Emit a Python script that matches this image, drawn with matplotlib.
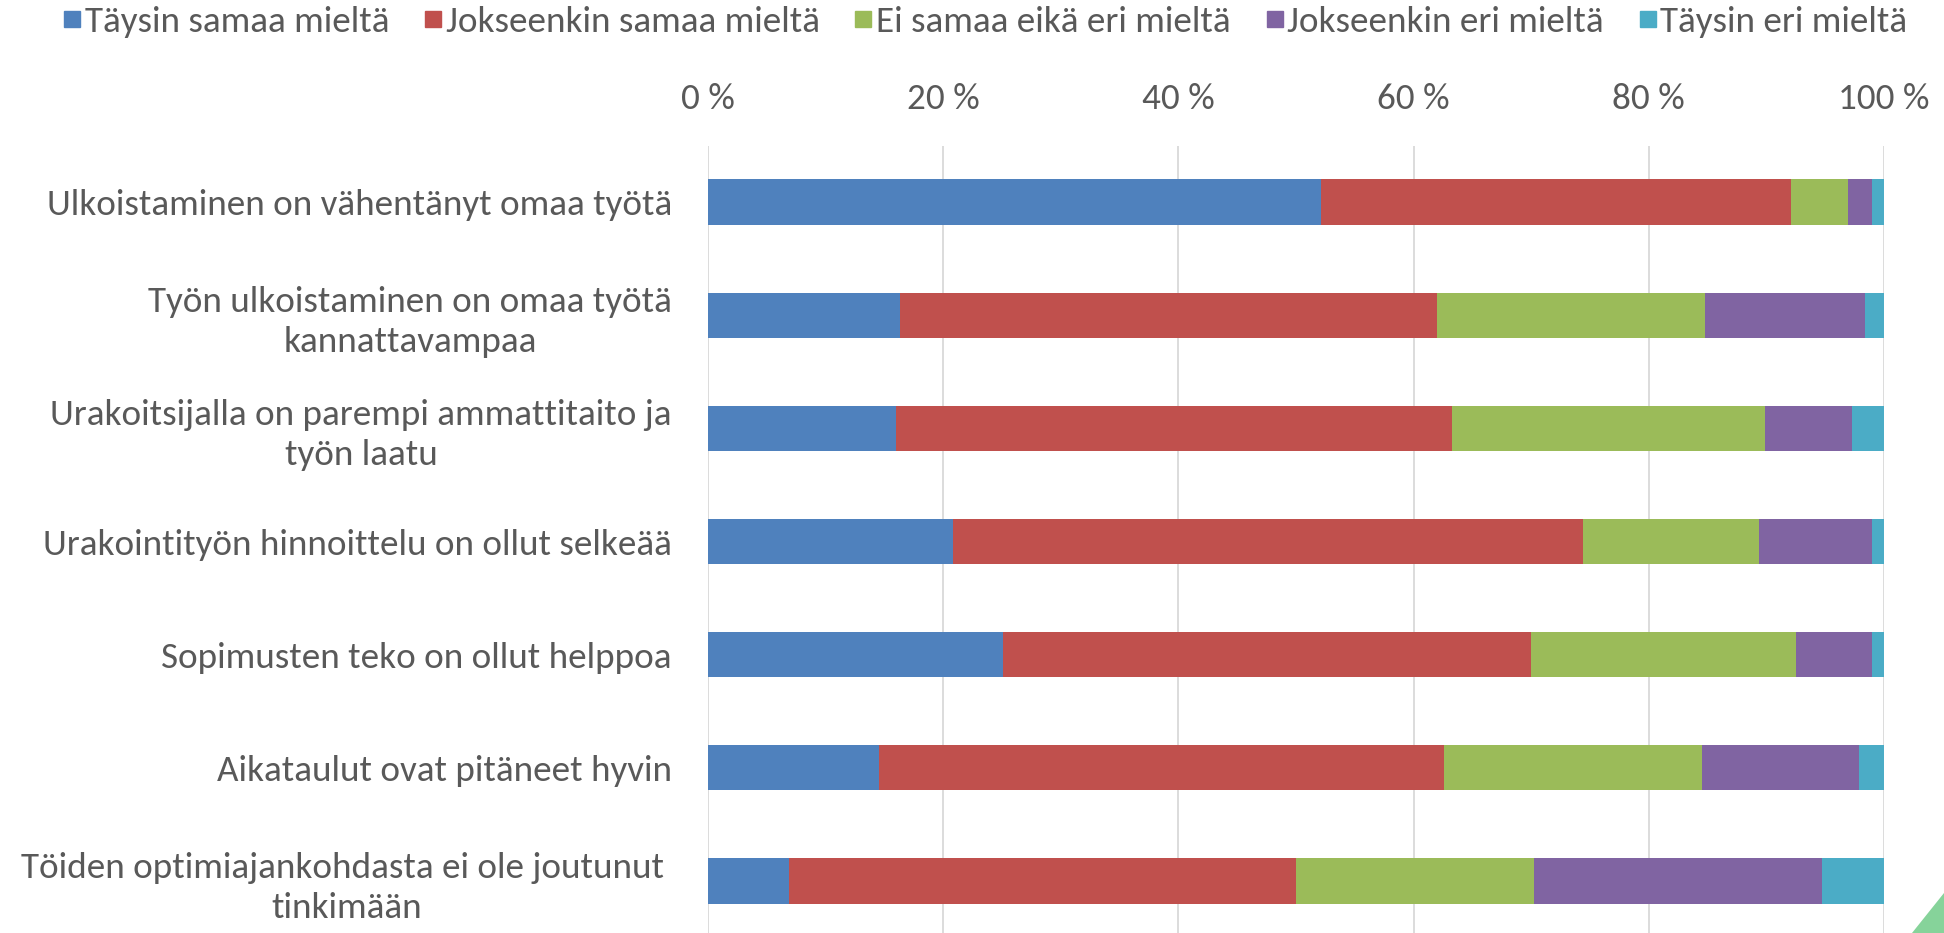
import matplotlib
matplotlib.use("Agg")
import matplotlib.pyplot as plt
from matplotlib.lines import Line2D
from matplotlib.patches import Polygon
from matplotlib import font_manager
import numpy as np

categories = [
    "Ulkoistaminen on vähentänyt omaa työtä",
    "Työn ulkoistaminen on omaa työtä\nkannattavampaa",
    "Urakoitsijalla on parempi ammattitaito ja\ntyön laatu",
    "Urakointityön hinnoittelu on ollut selkeää",
    "Sopimusten teko on ollut helppoa",
    "Aikataulut ovat pitäneet hyvin",
    "Töiden optimiajankohdasta ei ole joutunut \ntinkimään",
]
series_names = ["Täysin samaa mieltä", "Jokseenkin samaa mieltä",
                "Ei samaa eikä eri mieltä", "Jokseenkin eri mieltä",
                "Täysin eri mieltä"]
taysin_samaa = [52.1, 16.3, 16.0, 20.8, 25.1, 14.5, 6.9]
jokseenkin_samaa = [40.0, 45.7, 47.3, 53.6, 44.9, 48.1, 43.1]
ei_samaa_eika_eri = [4.8, 22.8, 26.6, 15.0, 22.5, 21.9, 20.2]
jokseenkin_eri = [2.1, 13.6, 7.4, 9.6, 6.5, 13.4, 24.5]
taysin_eri = [1.0, 1.6, 2.7, 1.0, 1.0, 2.1, 5.3]
tick_values = [0, 20, 40, 60, 80, 100]
tick_labels = ["0 %", "20 %", "40 %", "60 %", "80 %", "100 %"]

colors = ["#4F81BD", "#C0504D", "#9BBB59", "#8064A2", "#4BACC6"]
text_color = "#595959"

W, H = 1944, 933
fig = plt.figure(figsize=(W / 100, H / 100), dpi=100)
renderer = fig.canvas.get_renderer()

available = {f.name for f in font_manager.fontManager.ttflist}
family = 'Carlito' if 'Carlito' in available else 'Lato'
plt.rcParams['font.family'] = [family, 'DejaVu Sans']
t = fig.text(0, 0, categories[0], fontsize=25)
w = t.get_window_extent(renderer).width
t.remove()
FS = float(np.clip(25 * 625.0 / w, 22, 29))

left_px, right_px = 708, 1884
top_px, bottom_px = 145.5, 937.5
ax = fig.add_axes([left_px / W, (H - bottom_px) / H,
                   (right_px - left_px) / W, (bottom_px - top_px) / H])

data = [taysin_samaa, jokseenkin_samaa, ei_samaa_eika_eri, jokseenkin_eri, taysin_eri]
y = np.arange(len(categories))
left = np.zeros(len(categories))
for vals, col, name in zip(data, colors, series_names):
    v = np.array(vals)
    ax.barh(y, v, left=left, height=0.4, color=col, label=name, zorder=3)
    left += v

ax.set_xlim(0, 100)
ax.set_ylim(len(categories) - 0.5, -0.5)
ax.xaxis.tick_top()
ax.set_xticks(tick_values)
ax.set_xticklabels(tick_labels, fontsize=FS, color=text_color)
ax.tick_params(axis='x', length=0, pad=22)
ax.set_yticks(y)
ax.set_yticklabels(categories, fontsize=FS, color=text_color,
                   multialignment='center', linespacing=1.3)
ax.tick_params(axis='y', length=0, pad=26)
ax.grid(axis='x', color="#D9D9D9", linewidth=1.3, zorder=0)
for s in ax.spines.values():
    s.set_visible(False)

handles = [Line2D([0], [0], marker='s', linestyle='none', markersize=11.5,
                  markerfacecolor=c, markeredgecolor=c) for c in colors]
fig.legend(handles, series_names, loc='center', bbox_to_anchor=(0.507, 1 - 22 / H),
           ncol=5, frameon=False, fontsize=FS, labelcolor=text_color,
           handlelength=0.45, handletextpad=0.12, columnspacing=0.95, borderaxespad=0,
           borderpad=0)

# small decorative corner shape seen in the source slide
fig.patches.append(Polygon([[1912 / W, 0], [1944 / W, 0], [1944 / W, 40 / H]],
                           closed=True, transform=fig.transFigure,
                           facecolor="#86D39A", edgecolor='none', figure=fig))

fig.savefig("out.png", dpi=100, facecolor="white")
